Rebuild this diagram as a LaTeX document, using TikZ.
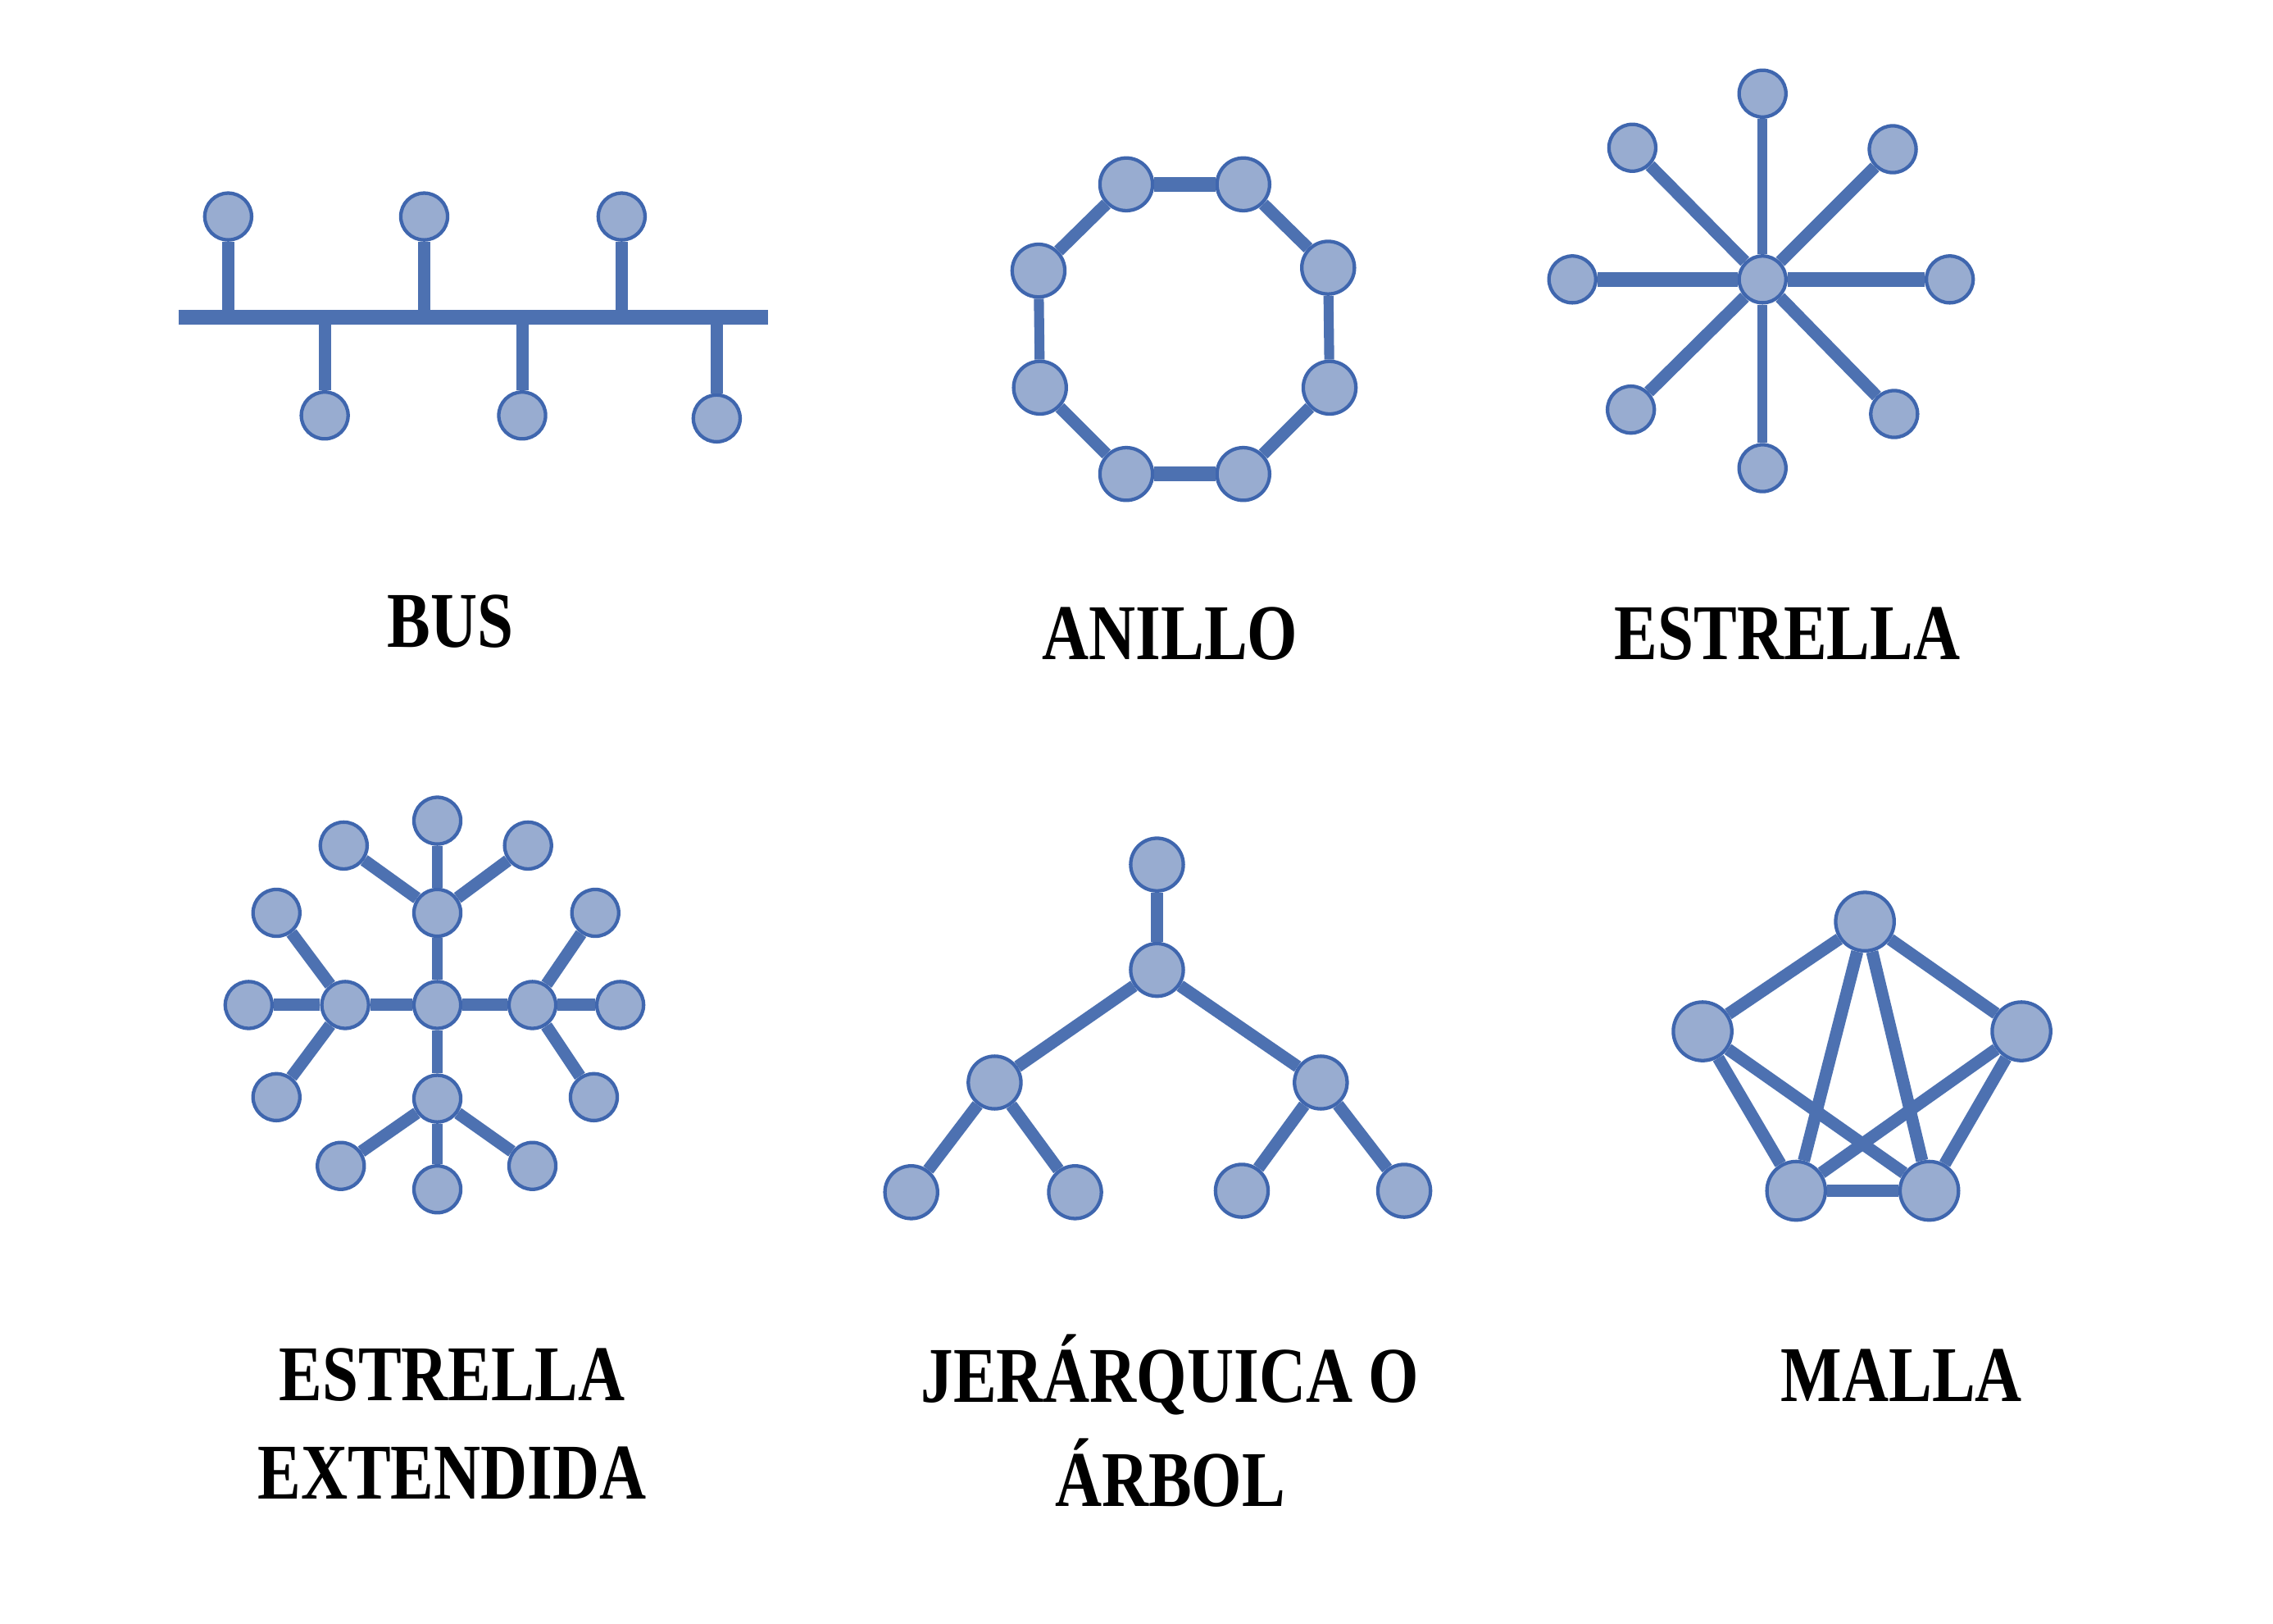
\documentclass[tikz,border=0pt]{standalone}
\usepackage{fontspec}
\setmainfont{Liberation Serif}[FakeStretch=0.82]
\definecolor{edgec}{HTML}{4D71B1}
\definecolor{nodeline}{HTML}{3F66AE}
\definecolor{nodefill}{HTML}{98ACD0}
\tikzset{
  pc/.style={circle,draw=nodeline,fill=nodefill,line width=1.2pt,minimum size=16pt,inner sep=0pt},
  pcm/.style={pc,minimum size=18pt},
  pcl/.style={pc,minimum size=20pt},
  lk/.style={draw=edgec,line width=4.2pt},
  lkt/.style={draw=edgec,line width=5pt},
  lkn/.style={draw=edgec,line width=3.4pt},
  lbl/.style={font=\fontsize{27}{33}\selectfont\bfseries,align=center,text=black}
}
\begin{document}
\begin{tikzpicture}[x=0.5pt,y=-0.5pt]
\useasboundingbox (0,0) rectangle (1554,1110);
\fill[white] (0,0) rectangle (1554,1110);

% ---------- BUS ----------
\coordinate (busL) at (122,217);
\coordinate (busR) at (525,217);
\coordinate (b1) at (156,217);
\coordinate (b2) at (222,217);
\coordinate (b3) at (290,217);
\coordinate (b4) at (357,217);
\coordinate (b5) at (425,217);
\coordinate (b6) at (490,217);
\node[pc] (bt1) at (156,148) {};
\node[pc] (bt2) at (290,148) {};
\node[pc] (bt3) at (425,148) {};
\node[pc] (bb1) at (222,284) {};
\node[pc] (bb2) at (357,284) {};
\node[pc] (bb3) at (490,286) {};
\draw[lkt] (busL) -- (busR);
\draw[lk] (bt1) -- (b1);
\draw[lk] (bt2) -- (b3);
\draw[lk] (bt3) -- (b5);
\draw[lk] (bb1) -- (b2);
\draw[lk] (bb2) -- (b4);
\draw[lk] (bb3) -- (b6);
\node[lbl] (tbus) at (308,425) {BUS};

% ---------- ANILLO ----------
\node[pcm] (r1) at (770,126) {};
\node[pcm] (r2) at (850,126) {};
\node[pcm] (r3) at (908,183) {};
\node[pcm] (r4) at (909,265) {};
\node[pcm] (r5) at (850,324) {};
\node[pcm] (r6) at (770,324) {};
\node[pcm] (r7) at (711,265) {};
\node[pcm] (r8) at (710,185) {};
\draw[lkt] (r1) -- (r2);
\draw[lk] (r2) -- (r3);
\draw[lkn] (r3) -- (r4);
\draw[lk] (r4) -- (r5);
\draw[lkt] (r5) -- (r6);
\draw[lk] (r6) -- (r7);
\draw[lkn] (r7) -- (r8);
\draw[lk] (r8) -- (r1);
\node[lbl] (tani) at (800,433) {ANILLO};

% ---------- ESTRELLA ----------
\node[pc] (sc) at (1205,191) {};
\node[pc] (sn) at (1205,64) {};
\node[pc] (ss) at (1205,320) {};
\node[pc] (sw) at (1075,191) {};
\node[pc] (se) at (1333,191) {};
\node[pc] (snw) at (1116,101) {};
\node[pc] (sne) at (1294,102) {};
\node[pc] (ssw) at (1115,280) {};
\node[pc] (sse) at (1295,283) {};
\draw[lkn] (sc) -- (sn);
\draw[lkn] (sc) -- (ss);
\draw[lkt] (sc) -- (sw);
\draw[lkt] (sc) -- (se);
\draw[lk] (sc) -- (snw);
\draw[lk] (sc) -- (sne);
\draw[lk] (sc) -- (ssw);
\draw[lk] (sc) -- (sse);
\node[lbl] (test) at (1222,433) {ESTRELLA};

% ---------- ESTRELLA EXTENDIDA ----------
\node[pc] (ec) at (299,687) {};
\node[pc] (et) at (299,624) {};
\node[pc] (eb) at (299,751) {};
\node[pc] (el) at (236,687) {};
\node[pc] (er) at (364,687) {};
\node[pc] (et1) at (299,561) {};
\node[pc] (et2) at (235,578) {};
\node[pc] (et3) at (361,578) {};
\node[pc] (el1) at (170,687) {};
\node[pc] (el2) at (189,624) {};
\node[pc] (el3) at (189,750) {};
\node[pc] (er1) at (424,687) {};
\node[pc] (er2) at (407,624) {};
\node[pc] (er3) at (406,750) {};
\node[pc] (eb1) at (299,813) {};
\node[pc] (eb2) at (233,797) {};
\node[pc] (eb3) at (364,797) {};
\draw[lkn] (ec) -- (et);
\draw[lkn] (ec) -- (eb);
\draw[lk] (ec) -- (el);
\draw[lk] (ec) -- (er);
\draw[lkn] (et) -- (et1);
\draw[lk] (et) -- (et2);
\draw[lk] (et) -- (et3);
\draw[lk] (el) -- (el1);
\draw[lk] (el) -- (el2);
\draw[lk] (el) -- (el3);
\draw[lk] (er) -- (er1);
\draw[lk] (er) -- (er2);
\draw[lk] (er) -- (er3);
\draw[lkn] (eb) -- (eb1);
\draw[lk] (eb) -- (eb2);
\draw[lk] (eb) -- (eb3);
\node[lbl] (text1) at (309,940) {ESTRELLA};
\node[lbl] (text2) at (309,1007) {EXTENDIDA};

% ---------- JERARQUICA ----------
\node[pcm] (h0) at (791,591) {};
\node[pcm] (h1) at (791,663) {};
\node[pcm] (hl) at (680,740) {};
\node[pcm] (hr) at (903,740) {};
\node[pcm] (h11) at (623,815) {};
\node[pcm] (h12) at (735,815) {};
\node[pcm] (h21) at (849,814) {};
\node[pcm] (h22) at (960,814) {};
\draw[lk] (h0) -- (h1);
\draw[lk] (h1) -- (hl);
\draw[lk] (h1) -- (hr);
\draw[lk] (hl) -- (h11);
\draw[lk] (hl) -- (h12);
\draw[lk] (hr) -- (h21);
\draw[lk] (hr) -- (h22);
\node[lbl] (tjer1) at (800,940) {JERÁRQUICA O};
\node[lbl] (tjer2) at (800,1007) {ÁRBOL};

% ---------- MALLA ----------
\node[pcl] (m1) at (1275,630) {};
\node[pcl] (m2) at (1164,705) {};
\node[pcl] (m3) at (1382,705) {};
\node[pcl] (m4) at (1228,814) {};
\node[pcl] (m5) at (1319,814) {};
\draw[lk] (m1) -- (m2);
\draw[lk] (m1) -- (m3);
\draw[lk] (m1) -- (m4);
\draw[lk] (m1) -- (m5);
\draw[lk] (m2) -- (m4);
\draw[lk] (m2) -- (m5);
\draw[lk] (m3) -- (m4);
\draw[lk] (m3) -- (m5);
\draw[lk] (m4) -- (m5);
\node[lbl] (tmal) at (1300,940) {MALLA};
\end{tikzpicture}
\end{document}
